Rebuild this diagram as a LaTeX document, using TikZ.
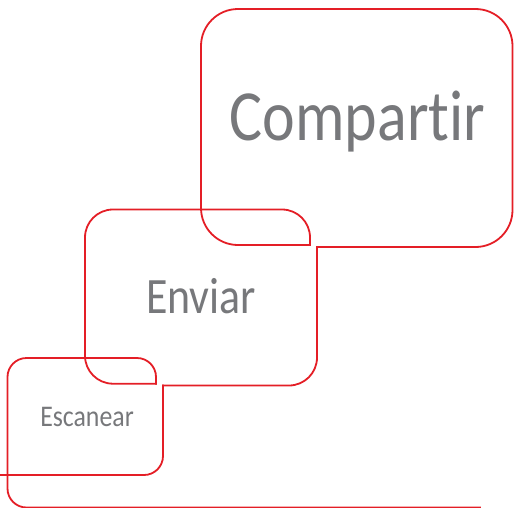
\documentclass[tikz,border=0pt]{standalone}
\usepackage{fontspec}
\newfontfamily\boxfont[FakeStretch=0.86, Ligatures=NoCommon]{Carlito}
\usepackage{tikz}

\definecolor{bubblered}{RGB}{228,30,38}
\definecolor{textgrey}{RGB}{119,120,123}

\begin{document}
\begin{tikzpicture}[
    x=1pt, y=-1pt,
    outline/.style={draw=bubblered, line width=1.8pt, line cap=rect},
    boxtext/.style={text=textgrey, inner sep=0pt, anchor=base},
    bigtext/.style={boxtext, font=\boxfont\fontsize{72}{80}\selectfont},
    midtext/.style={boxtext, font=\boxfont\fontsize{51}{60}\selectfont},
    smalltext/.style={boxtext, font=\boxfont\fontsize{30}{36}\selectfont}
]
\useasboundingbox (0,0) rectangle (514,507);

% Compartir box
\draw[outline, rounded corners=37pt] (317,247) -- (512.5,247) -- (512.5,9) -- (201,9) -- (201,245) -- (310,245);

% Enviar box
\draw[outline, rounded corners=28pt] (310,245) -- (310,209.5) -- (85,209.5) -- (85,383.7) -- (156,383.7);
\draw[outline, rounded corners=28pt] (317,247) -- (317,385.5) -- (163,385.5);

% Escanear box
\draw[outline, rounded corners=19pt] (156,383.7) -- (156,358) -- (7.5,358) -- (7.5,507.5) -- (480,507.5);
\draw[outline, rounded corners=19pt] (163,385.5) -- (163,475) -- (-5,475);

% Texts
\node[bigtext] (compartir) at (357.5,140) {Compartir};
\node[midtext] (enviar) at (201,313) {Enviar};
\node[smalltext] (escanear) at (87,426) {Escanear};

\end{tikzpicture}
\end{document}
